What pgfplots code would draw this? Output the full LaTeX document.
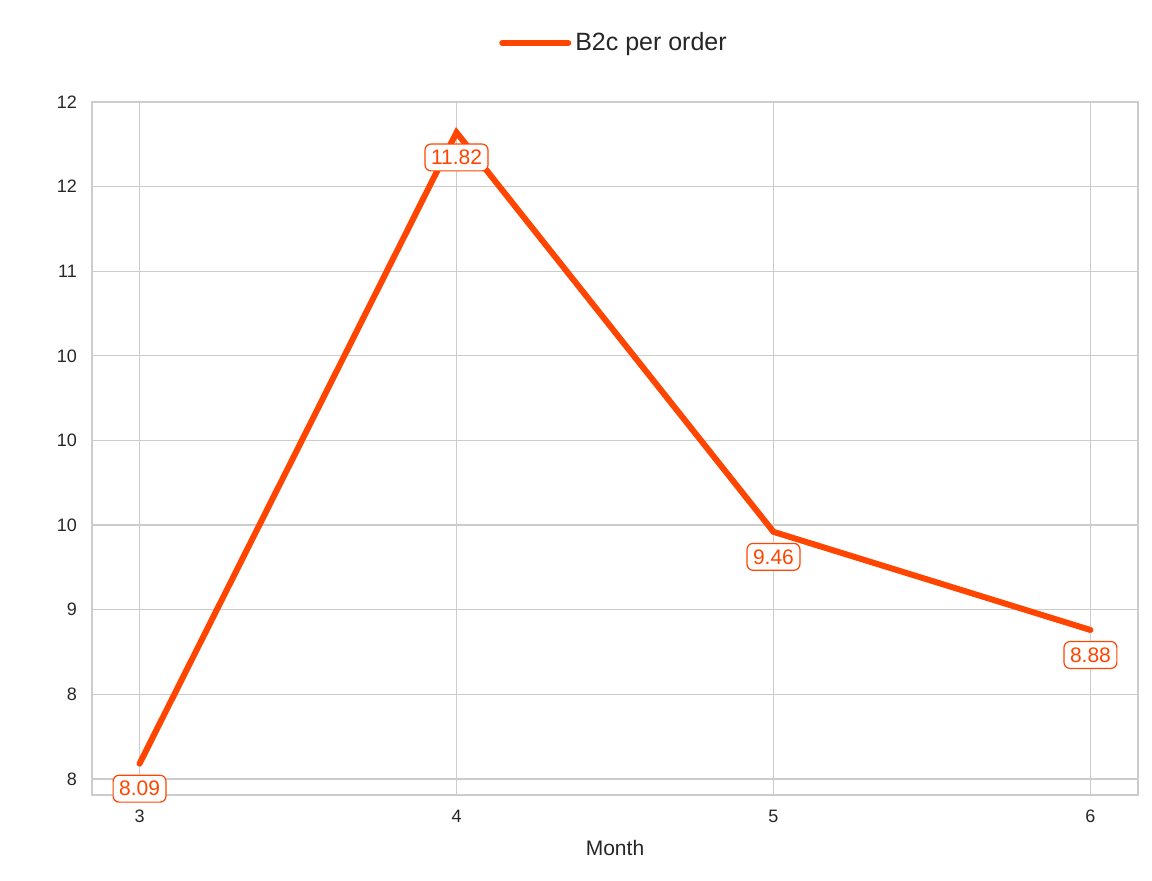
\documentclass[border=0pt]{standalone}
\usepackage{pgfplots}
\pgfplotsset{compat=1.18}
\usepackage{fontspec}
\setmainfont{Liberation Sans}
\definecolor{oc}{HTML}{FF4500}
\definecolor{gc}{HTML}{CCCCCC}
\begin{document}
\begin{tikzpicture}
\path[use as bounding box] (-46pt,-43pt) rectangle (530pt,397.5pt);
\begin{axis}[
  at={(0,0)}, anchor=south west,
  scale only axis, width=523pt, height=346.5pt,
  xmin=2.85, xmax=6.15, ymin=7.905, ymax=12.0,
  xtick={3,4,5,6},
  ytick={8,8.5,9,9.5,10,10.5,11,11.5,12},
  yticklabels={8,8,9,10,10,10,11,12,12},
  grid=major, major grid style={gc, line width=0.6pt},
  axis line style={gc, line width=0.8pt},
  tick style={draw=none},
  tick label style={font=\fontsize{9}{10}\selectfont, text=black!85},
  xticklabel style={yshift=-4pt},
  yticklabel style={xshift=-4pt},
  /pgf/number format/assume math mode=true,
  xlabel={Month}, xlabel style={font=\fontsize{10.5}{12}\selectfont, text=black!85, yshift=-2pt},
  legend style={at={(0.5,1.0)}, anchor=south, yshift=20pt, draw=none, font=\fontsize{12.5}{14}\selectfont, text=black!85},
  legend image code/.code={\draw[#1, line width=3pt, line cap=round] (0pt,0pt) -- (33pt,0pt);},
  legend cell align=left,
  nodes near coords,
  point meta=explicit symbolic,
  nodes near coords style={anchor=center, yshift=-12.5pt, font=\fontsize{10.5}{12}\selectfont, text=oc, fill=white, draw=oc, rounded corners=3pt, inner sep=3pt, line width=0.6pt},
]
\addplot[oc, line width=3pt, line cap=round] coordinates {
 (3,8.09) [8.09] (4,11.82) [11.82] (5,9.46) [9.46] (6,8.88) [8.88]};
\legend{B2c per order}
\end{axis}
\end{tikzpicture}
\end{document}
